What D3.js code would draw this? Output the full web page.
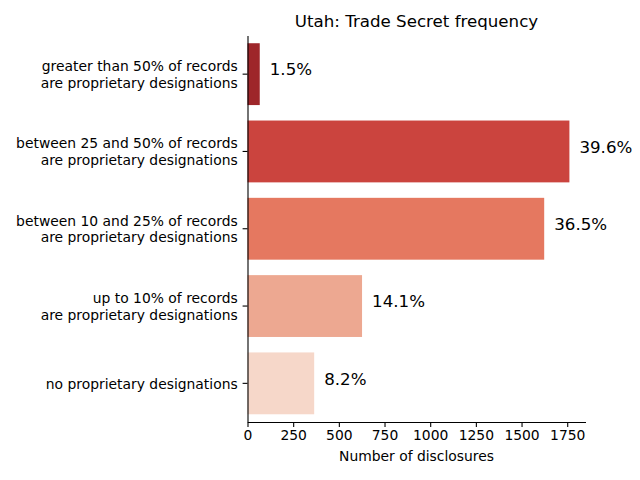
<!DOCTYPE html>
<html>
<head>
<meta charset="utf-8">
<script src="https://cdn.jsdelivr.net/npm/d3@7"></script>
<style>
  body { margin: 0; background: #fff; }
  text { font-family: "DejaVu Sans", sans-serif; fill: #000; }
</style>
</head>
<body>
<svg id="chart" width="640" height="480"></svg>
<script>
// categories, top to bottom
const categories = [
    "greater than 50% of records\nare proprietary designations",
    "between 25 and 50% of records\nare proprietary designations",
    "between 10 and 25% of records\nare proprietary designations",
    "up to 10% of records\nare proprietary designations",
    "no proprietary designations"
];
const disclosures = [67, 1762, 1624, 627, 365];
const xTicks = [0, 250, 500, 750, 1000, 1250, 1500, 1750];
const title = "Utah: Trade Secret frequency";
const xLabel = "Number of disclosures";

// matplotlib "Reds" stops
const redsStops = ["#fff5f0", "#fee0d2", "#fcbba1", "#fc9272", "#fb6a4a", "#ef3b2c", "#cb181d", "#a50f15", "#67000d"];

const margin = { left: 247.5, right: 585.5, top: 35.5, bottom: 422 };
const svg = d3.select("#chart");

const x = d3.scaleLinear()
    .domain([0, d3.max(disclosures) * 1.05])
    .range([margin.left, margin.right]);

const y = d3.scaleBand()
    .domain(categories)
    .range([margin.top, margin.bottom])
    .paddingInner(0.2)
    .paddingOuter(0.1);

// sample the colormap like seaborn does (reversed), then desaturate 0.75
const reds = d3.scaleLinear()
    .domain(d3.range(redsStops.length).map(i => i / (redsStops.length - 1)))
    .range(redsStops)
    .interpolate(d3.interpolateRgb);
const n = categories.length;
const colors = categories.map((c, i) => {
    const hsl = d3.hsl(reds((n - i) / (n + 1)));
    hsl.s *= 0.75;
    return hsl.formatHex();
});

const total = d3.sum(disclosures);

// bars
svg.append("g")
    .selectAll("rect")
    .data(categories)
    .join("rect")
    .attr("x", x(0))
    .attr("y", d => y(d))
    .attr("width", (d, i) => x(disclosures[i]) - x(0))
    .attr("height", y.bandwidth())
    .attr("fill", (d, i) => colors[i]);

// percentage labels
svg.append("g")
    .selectAll("text")
    .data(categories)
    .join("text")
    .attr("x", (d, i) => x(disclosures[i]) + 10)
    .attr("y", d => y(d) + y.bandwidth() / 2 + 1.2)
    .attr("font-size", "16.67px")
    .text((d, i) => (disclosures[i] / total * 100).toFixed(1) + "%");

// x axis
const xAxis = svg.append("g")
    .attr("transform", `translate(0,${margin.bottom})`)
    .call(d3.axisBottom(x).tickValues(xTicks).tickFormat(d3.format("d"))
        .tickSize(4.9).tickPadding(3.5).tickSizeOuter(0));
xAxis.select(".domain").attr("stroke", "#000").attr("stroke-width", 1.1);
xAxis.selectAll(".tick line").attr("stroke", "#000").attr("stroke-width", 1.1);
xAxis.selectAll(".tick text")
    .attr("font-family", "DejaVu Sans")
    .attr("font-size", "13.89px")
    .attr("fill", "#000");

// y axis
const yAxis = svg.append("g")
    .attr("transform", `translate(${margin.left},0)`)
    .call(d3.axisLeft(y).tickSize(4.9).tickSizeOuter(0).tickFormat(""));
yAxis.select(".domain").attr("stroke", "#000").attr("stroke-width", 1.1);
yAxis.selectAll(".tick line").attr("stroke", "#000").attr("stroke-width", 1.1);

// multi-line category labels
categories.forEach(cat => {
    const lines = cat.split("\n");
    const cy = y(cat) + y.bandwidth() / 2;
    const t = svg.append("text")
        .attr("text-anchor", "end")
        .attr("font-size", "13.89px");
    lines.forEach((line, i) => {
        t.append("tspan")
            .attr("x", margin.left - 9.8)
            .attr("y", cy + 5.2 + (i - (lines.length - 1) / 2) * 16.7)
            .text(line);
    });
});

// title and axis label
svg.append("text")
    .attr("x", (margin.left + margin.right) / 2)
    .attr("y", 26.7)
    .attr("text-anchor", "middle")
    .attr("font-size", "16.67px")
    .text(title);

svg.append("text")
    .attr("x", (margin.left + margin.right) / 2)
    .attr("y", 461)
    .attr("text-anchor", "middle")
    .attr("font-size", "13.89px")
    .text(xLabel);
</script>
</body>
</html>
